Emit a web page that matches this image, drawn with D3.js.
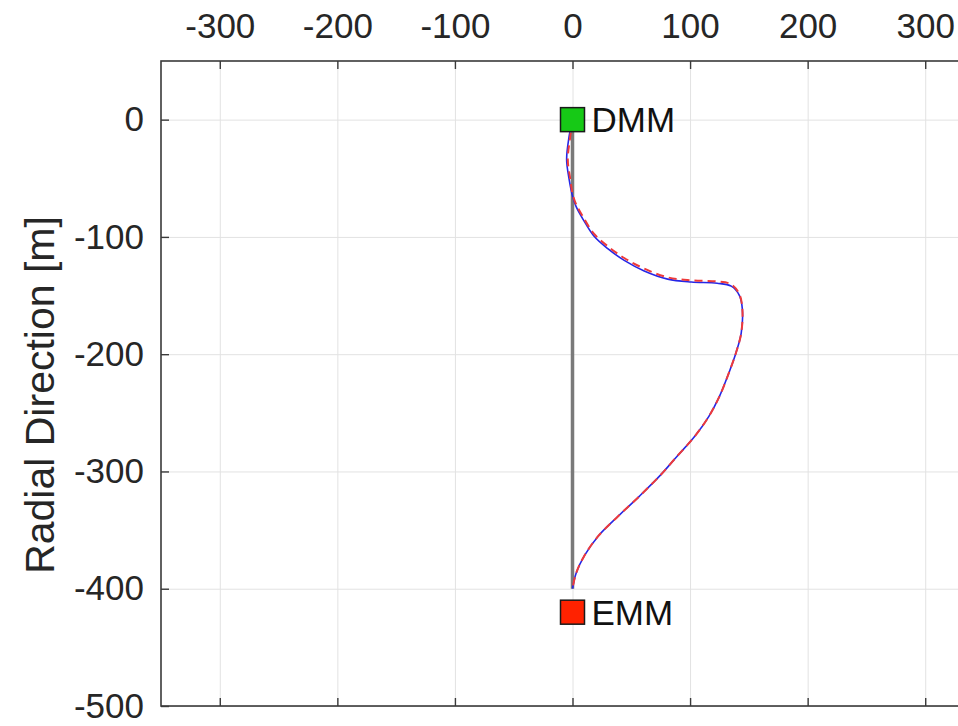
<!DOCTYPE html>
<html>
<head>
<meta charset="utf-8">
<script src="https://cdn.jsdelivr.net/npm/d3@7"></script>
<style>
  body { margin: 0; background: #fff; }
  svg { display: block; font-family: "Liberation Sans", Arial, sans-serif; }
</style>
</head>
<body>
<svg id="chart" width="958" height="726"></svg>
<script>
// tick values
var xTicks = [-300, -200, -100, 0, 100, 200, 300];
var yTicks = [0, -100, -200, -300, -400, -500];

// trajectory, solid blue  [x, radial]
var blueX = [0, -3, -5, -3, 0, 3, 9, 18, 30, 44, 61, 81, 101, 123, 135, 142, 144.5, 143.5, 139, 133, 125, 116, 104, 89, 74, 57, 39, 22, 10, 3, 0];
var blueY = [0, -15, -34, -50, -65, -74, -85, -99, -110, -120, -129, -136, -138.5, -139.5, -142, -150, -162, -182, -199, -216, -236, -253, -270, -287, -304, -321, -338, -355, -372, -387, -400];

// trajectory, dashed red
var redX = [0, -2, -4, -2, 0, 3, 9, 18, 30, 44, 61, 81, 101, 123, 135, 142, 144.5, 143.5, 139, 133, 125, 116, 104, 89, 74, 57, 39, 22, 10, 3, 0];
var redY = [0, -15, -34, -50, -63, -72, -83, -97, -108, -118, -127, -134.5, -137, -138, -140.5, -149, -162, -182, -199, -216, -236, -253, -270, -287, -304, -321, -338, -355, -372, -387, -400];

// straight reference line and end markers
var refLine = [[0, 0], [0, -400]];
var markerNames = ["DMM", "EMM"];
var markerY = [0, -420];
var markerColors = ["#16c916", "#ff2200"];

var margin = {top: 61, left: 161},
    plotW = 823, plotH = 645;

var svg = d3.select("#chart");
var g = svg.append("g").attr("transform", "translate(" + margin.left + "," + margin.top + ")");

var x = d3.scaleLinear().domain([-350, 350]).range([0, plotW]);
var y = d3.scaleLinear().domain([-500, 50]).range([plotH, 0]);

var fmt = function(d) { return String(d); };

// grid
g.append("g").attr("class", "grid")
  .call(d3.axisTop(x).tickValues(xTicks).tickSize(-plotH).tickFormat(""))
  .call(s => s.select(".domain").remove())
  .selectAll("line").attr("stroke", "#e2e2e2").attr("stroke-width", 1);
g.append("g").attr("class", "grid")
  .call(d3.axisLeft(y).tickValues(yTicks).tickSize(-plotW).tickFormat(""))
  .call(s => s.select(".domain").remove())
  .selectAll("line").attr("stroke", "#e2e2e2").attr("stroke-width", 1);

// box
g.append("rect").attr("width", plotW).attr("height", plotH)
  .attr("fill", "none").attr("stroke", "#3a3a3a").attr("stroke-width", 1.6);

// axes with inward ticks
var xTop = g.append("g")
  .call(d3.axisTop(x).tickValues(xTicks).tickFormat(fmt).tickSizeInner(-8).tickSizeOuter(0).tickPadding(23));
var xBot = g.append("g").attr("transform", "translate(0," + plotH + ")")
  .call(d3.axisBottom(x).tickValues(xTicks).tickSizeInner(-8).tickSizeOuter(0).tickFormat(""));
var yLeft = g.append("g")
  .call(d3.axisLeft(y).tickValues(yTicks).tickFormat(fmt).tickSizeInner(-8).tickSizeOuter(0).tickPadding(17));

[xTop, xBot, yLeft].forEach(function(a) {
  a.select(".domain").remove();
  a.selectAll("line").attr("stroke", "#3a3a3a").attr("stroke-width", 1.4);
  a.selectAll("text").attr("font-size", 35).attr("fill", "#262626")
    .attr("font-family", "Liberation Sans, Arial, sans-serif");
});

// y axis title
svg.append("text")
  .attr("transform", "translate(54,395) rotate(-90)")
  .attr("text-anchor", "middle")
  .attr("font-size", 41)
  .attr("fill", "#262626")
  .text("Radial Direction [m]");

var line = d3.line().x(d => x(d[0])).y(d => y(d[1])).curve(d3.curveCatmullRom);

g.append("path").datum(refLine)
  .attr("d", d3.line().x(d => x(d[0])).y(d => y(d[1])))
  .attr("stroke", "#7a7a7a").attr("stroke-width", 3.5).attr("fill", "none");

g.append("path").datum(blueX.map((v, i) => [v, blueY[i]]))
  .attr("d", line).attr("fill", "none")
  .attr("stroke", "#2626e6").attr("stroke-width", 1.6);

g.append("path").datum(redX.map((v, i) => [v, redY[i]]))
  .attr("d", line).attr("fill", "none")
  .attr("stroke", "#ee3a3a").attr("stroke-width", 2)
  .attr("stroke-dasharray", "8,5");

// markers
var m = g.selectAll(".marker").data(markerNames).enter().append("g").attr("class", "marker");
m.append("rect")
  .attr("x", x(0) - 12).attr("y", (d, i) => y(markerY[i]) - 12)
  .attr("width", 24).attr("height", 24)
  .attr("fill", (d, i) => markerColors[i])
  .attr("stroke", "#1a1a1a").attr("stroke-width", 1.5);
m.append("text")
  .attr("x", x(0) + 19).attr("y", (d, i) => y(markerY[i]))
  .attr("dy", "0.36em")
  .attr("font-size", 35).attr("fill", "#111")
  .text(d => d);
</script>
</body>
</html>
